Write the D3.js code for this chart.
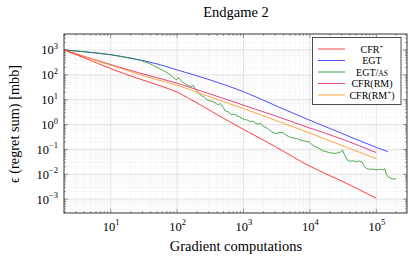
<!DOCTYPE html>
<html><head><meta charset="utf-8">
<script src="https://cdn.jsdelivr.net/npm/d3@7"></script>
<style>
body{margin:0;background:#fff;}
text{font-family:"Liberation Serif","DejaVu Serif",serif;fill:#000;}
</style></head>
<body><svg id="c" width="408" height="259"></svg>
<script>
// ---------- data ----------
const seriesNames = ["CFR+", "EGT", "EGT/AS", "CFR(RM)", "CFR(RM+)"];
const xTickExps = [1, 2, 3, 4, 5];
const yTickExps = [3, 2, 1, 0, -1, -2, -3];

const smoothX = [2, 4, 10, 26, 50, 100, 158, 234, 500, 1000, 3162, 10000, 15800, 31600, 100000];
const cfrPlusY = [1000, 479, 178, 71, 40, 20, 10.5, 5.8, 1.78, 0.64, 0.12, 0.021, 0.0117, 0.005, 0.00107];
const cfrRMY = [1000, 550, 260, 123, 76, 46, 31, 22, 11.2, 6.0, 2.14, 0.72, 0.48, 0.25, 0.074];
const cfrRMPlusY = [1000, 530, 245, 107, 64, 38, 25, 17, 8.3, 4.4, 1.41, 0.45, 0.28, 0.138, 0.042];

const egtX = [2, 4, 10, 23, 50, 100, 316, 1000, 3162, 10000, 31600, 100000, 150000];
const egtY = [1000, 850, 646, 437, 275, 158, 62, 21, 5.5, 1.48, 0.42, 0.12, 0.081];

const egtAsX = [2, 4, 10, 23.4, 28.2, 33, 38, 42.7, 47.9, 52.5, 57.5, 63, 69, 76, 83, 91, 98, 105, 112, 120, 132, 145, 155, 166, 174, 186, 204, 219, 234, 257, 282, 309, 339, 372, 407, 447, 490, 537, 589, 661, 724, 794, 871, 955, 1047, 1148, 1259, 1380, 1514, 1660, 1820, 1995, 2188, 2399, 2630, 2884, 3162, 3548, 3981, 4365, 4786, 5248, 5754, 6310, 7079, 7943, 8913, 9772, 10715, 11749, 12882, 14125, 15488, 16982, 19055, 21380, 23988, 26303, 28840, 30903, 33113, 36308, 39811, 44668, 50119, 56234, 61660, 66069, 72444, 79433, 89125, 100000, 112202, 125893, 134896, 141254, 151356, 165959, 181970, 199526];
const egtAsY = [1000, 850, 646, 427, 380, 330, 290, 248, 212, 184, 166, 145, 126, 107, 89, 72, 63, 78, 63, 52, 44, 37, 35, 33, 38, 27.5, 21.4, 16.6, 14.5, 12.6, 10, 9.1, 8.5, 7.6, 6.3, 6.9, 5.0, 3.5, 3.2, 2.5, 2.6, 2.3, 2.0, 1.78, 1.58, 1.51, 1.32, 1.35, 1.12, 1.05, 1.10, 0.83, 0.76, 0.63, 0.52, 0.46, 0.44, 0.48, 0.46, 0.38, 0.33, 0.30, 0.28, 0.275, 0.24, 0.224, 0.209, 0.20, 0.158, 0.132, 0.12, 0.105, 0.089, 0.083, 0.076, 0.071, 0.069, 0.072, 0.079, 0.093, 0.063, 0.038, 0.033, 0.035, 0.032, 0.034, 0.030, 0.020, 0.0166, 0.0158, 0.0162, 0.0148, 0.0158, 0.0151, 0.0166, 0.010, 0.0079, 0.0068, 0.0063, 0.0068];

const colors = ["#ff2a2a", "#3b3bff", "#22922a", "#d9346f", "#ff9a2a"];

// ---------- layout ----------
const svg = d3.select("#c");
const L = 64, R = 407, T = 34, B = 213;
const x = d3.scaleLog().domain([1.98, 2.9e5]).range([L, R]);
const y = d3.scaleLog().domain([2.75e-4, 4400]).range([B, T]);

const g = svg.append("g");
const minorX = [], minorY = [];
for (let e = 0; e <= 5; e++) for (let m = 2; m <= 9; m++) { const v = m * Math.pow(10, e); if (v > 1.98 && v < 2.9e5) minorX.push(v); }
for (let e = -4; e <= 3; e++) for (let m = 2; m <= 9; m++) { const v = m * Math.pow(10, e); if (v > 2.75e-4 && v < 4400) minorY.push(v); }
g.selectAll(".mgx").data(minorX).enter().append("line")
  .attr("x1", d => x(d)).attr("x2", d => x(d)).attr("y1", T).attr("y2", B)
  .attr("stroke", "#f1f1f1").attr("stroke-width", 0.5);
g.selectAll(".mgy").data(minorY).enter().append("line")
  .attr("y1", d => y(d)).attr("y2", d => y(d)).attr("x1", L).attr("x2", R)
  .attr("stroke", "#f1f1f1").attr("stroke-width", 0.5);
g.selectAll(".gx").data(xTickExps).enter().append("line")
  .attr("x1", d => x(Math.pow(10, d))).attr("x2", d => x(Math.pow(10, d))).attr("y1", T).attr("y2", B)
  .attr("stroke", "#dcdcdc").attr("stroke-width", 0.8);
g.selectAll(".gy").data(yTickExps).enter().append("line")
  .attr("y1", d => y(Math.pow(10, d))).attr("y2", d => y(Math.pow(10, d))).attr("x1", L).attr("x2", R)
  .attr("stroke", "#dcdcdc").attr("stroke-width", 0.8);

const tk = svg.append("g").attr("stroke", "#555");
minorX.forEach(v => { [[B, B - 2], [T, T + 2]].forEach(([a, b]) => tk.append("line").attr("x1", x(v)).attr("x2", x(v)).attr("y1", a).attr("y2", b).attr("stroke-width", 0.5)); });
minorY.forEach(v => { [[L, L + 2], [R, R - 2]].forEach(([a, b]) => tk.append("line").attr("y1", y(v)).attr("y2", y(v)).attr("x1", a).attr("x2", b).attr("stroke-width", 0.5)); });
xTickExps.forEach(e => { const v = Math.pow(10, e); [[B, B - 4], [T, T + 4]].forEach(([a, b]) => tk.append("line").attr("x1", x(v)).attr("x2", x(v)).attr("y1", a).attr("y2", b).attr("stroke-width", 0.6)); });
yTickExps.forEach(e => { const v = Math.pow(10, e); [[L, L + 4], [R, R - 4]].forEach(([a, b]) => tk.append("line").attr("y1", y(v)).attr("y2", y(v)).attr("x1", a).attr("x2", b).attr("stroke-width", 0.6)); });

svg.append("clipPath").attr("id", "clip").append("rect").attr("x", L).attr("y", T).attr("width", R - L).attr("height", B - T);
const line = d3.line().x(d => x(d[0])).y(d => y(d[1]));
const plot = svg.append("g").attr("clip-path", "url(#clip)");
const series = [
  {xs: smoothX, ys: cfrPlusY, c: colors[0], w: 0.9},
  {xs: egtX, ys: egtY, c: colors[1], w: 0.9},
  {xs: egtAsX, ys: egtAsY, c: colors[2], w: 0.8},
  {xs: smoothX, ys: cfrRMY, c: colors[3], w: 0.9},
  {xs: smoothX, ys: cfrRMPlusY, c: colors[4], w: 0.9}
];
[1, 2, 3, 4, 0].forEach(i => {
  const s = series[i];
  plot.append("path").datum(s.xs.map((v, k) => [v, s.ys[k]]))
    .attr("d", line.curve(i === 2 ? d3.curveLinear : d3.curveMonotoneX))
    .attr("fill", "none").attr("stroke", s.c).attr("stroke-width", s.w);
});

svg.append("rect").attr("x", L).attr("y", T).attr("width", R - L).attr("height", B - T)
  .attr("fill", "none").attr("stroke", "#222").attr("stroke-width", 0.9);

function pow10(sel, e) {
  sel.append("tspan").text("10");
  sel.append("tspan").attr("dy", -5.5).attr("font-size", 8.5).text(e < 0 ? "\u2212" + (-e) : e);
}
xTickExps.forEach(e => {
  const t = svg.append("text").attr("x", x(Math.pow(10, e)) + 0.5).attr("y", 230.5).attr("text-anchor", "middle").attr("font-size", 12.5);
  pow10(t, e);
});
yTickExps.forEach(e => {
  const t = svg.append("text").attr("x", 58).attr("y", y(Math.pow(10, e)) + 4.5).attr("text-anchor", "end").attr("font-size", 12.5);
  pow10(t, e);
});

svg.append("text").attr("x", 236).attr("y", 17).attr("text-anchor", "middle").attr("font-size", 14.5).text("Endgame 2");
svg.append("text").attr("x", 236).attr("y", 251).attr("text-anchor", "middle").attr("font-size", 14.5).text("Gradient computations");
svg.append("text").attr("transform", "translate(19,124) rotate(-90)").attr("text-anchor", "middle").attr("font-size", 14.3).text("\u03f5 (regret sum) [mbb]");

const lg = svg.append("g");
lg.append("rect").attr("x", 312.5).attr("y", 37.5).attr("width", 88.5).attr("height", 67).attr("fill", "#fff").attr("stroke", "#222").attr("stroke-width", 0.8);
const rowsY = [49, 60.5, 72, 83.5, 95];
seriesNames.forEach((n, i) => {
  lg.append("line").attr("x1", 318).attr("x2", 345).attr("y1", rowsY[i]).attr("y2", rowsY[i]).attr("stroke", colors[i]).attr("stroke-width", 0.9);
  const t = lg.append("text").attr("x", 372).attr("y", rowsY[i] + 3.5).attr("text-anchor", "middle").attr("font-size", 10);
  if (n === "CFR+") { t.append("tspan").text("CFR"); t.append("tspan").attr("dy", -4).attr("font-size", 7).text("+"); }
  else if (n === "CFR(RM+)") { t.append("tspan").text("CFR(RM"); t.append("tspan").attr("dy", -4).attr("font-size", 7).text("+"); t.append("tspan").attr("dy", 4).text(")"); }
  else if (n === "EGT/AS") { t.append("tspan").text("EGT/"); t.append("tspan").attr("font-size", 7.5).text("AS"); }
  else t.text(n);
});
</script></body></html>
